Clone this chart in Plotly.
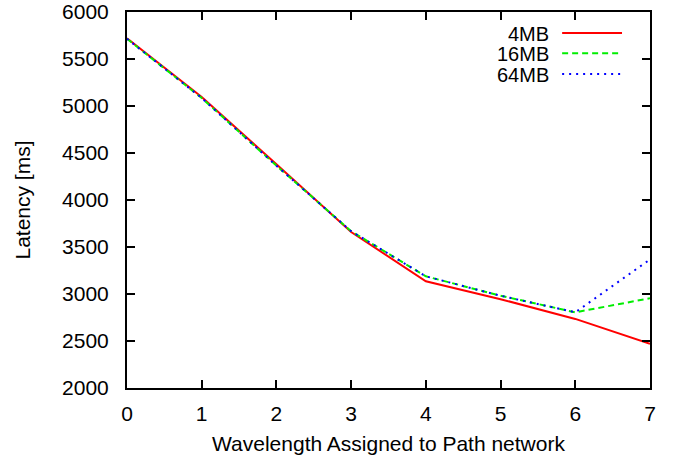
import plotly.graph_objects as go

wavelengths = [0, 1, 2, 3, 4, 5, 6, 7]
lat_4mb = [5720, 5095, 4380, 3660, 3135, 2945, 2735, 2470]
lat_16mb = [5715, 5085, 4365, 3668, 3188, 2982, 2805, 2955]
lat_64mb = [5715, 5085, 4365, 3668, 3188, 2982, 2805, 3368]
series_names = ["4MB", "16MB", "64MB"]
series_colors = ["#ff0000", "#00ee00", "#0000ff"]
series_dash = ["solid", "6px,4px", "2px,5px"]
y_ticks = [2000, 2500, 3000, 3500, 4000, 4500, 5000, 5500, 6000]

FONT = "Liberation Sans, Arial, Helvetica, sans-serif"

fig = go.Figure()
for name, ys, col, dash in zip(series_names, [lat_4mb, lat_16mb, lat_64mb], series_colors, series_dash):
    fig.add_trace(go.Scatter(x=wavelengths, y=ys, mode="lines", name=name,
                             line=dict(color=col, width=2, dash=dash)))

# gnuplot-style legend: right-aligned text, then line sample
rows_y = [0.944, 0.890, 0.835]
for name, col, dash, yy in zip(series_names, series_colors, series_dash, rows_y):
    fig.add_annotation(x=0.809, y=yy, xref="paper", yref="paper", text=name,
                       showarrow=False, xanchor="right", yanchor="middle",
                       height=19, borderpad=0,
                       font=dict(size=20, color="black", family=FONT))
    fig.add_shape(type="line", xref="paper", yref="paper", x0=0.832, x1=0.9465,
                  y0=yy, y1=yy, line=dict(color=col, width=2, dash=dash))

axis_common = dict(showline=True, linecolor="black", linewidth=2, mirror="ticks",
                   ticks="inside", ticklen=8, tickwidth=1.5, tickcolor="black",
                   showgrid=False, zeroline=False, automargin=False,
                   tickfont=dict(size=21, color="black", family=FONT))

fig.update_xaxes(range=[0, 7], tickvals=wavelengths, ticklabelstandoff=6,
                 title=dict(text="Wavelength Assigned to Path network", standoff=12,
                            font=dict(size=21, color="black", family=FONT)),
                 **axis_common)
fig.update_yaxes(range=[2000, 6000], tickvals=y_ticks, ticklabelstandoff=12,
                 title=dict(text="Latency [ms]", standoff=26,
                            font=dict(size=21, color="black", family=FONT)),
                 **axis_common)

fig.update_layout(width=675, height=460, showlegend=False,
                  margin=dict(l=127, r=25, t=12, b=72),
                  plot_bgcolor="white", paper_bgcolor="white",
                  font=dict(family=FONT, color="black"))

fig.write_html("out.html", config={"displayModeBar": False},
               post_script="document.body.style.margin='0';")
